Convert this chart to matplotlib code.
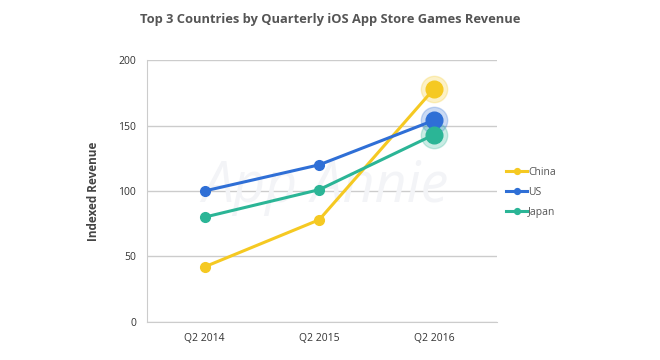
import matplotlib
matplotlib.use("Agg")
import matplotlib.pyplot as plt

quarters = ["Q2 2014", "Q2 2015", "Q2 2016"]
china = [42, 78, 178]
us = [100, 120, 154]
japan = [80, 101, 143]
series = [("China", china, "#F5C922"), ("US", us, "#2F6FD6"), ("Japan", japan, "#2BB596")]

plt.rcParams["font.family"] = ["Open Sans", "DejaVu Sans"]

fig = plt.figure(figsize=(6.6, 3.6), dpi=100)
ax = fig.add_axes([0.223, 0.106, 0.53, 0.727])

x = list(range(len(quarters)))
for name, vals, color in series:
    ax.plot(x, vals, color=color, lw=2.2, marker="o", markersize=7, label=name, zorder=3)
    # highlighted last point
    ax.plot(x[-1], vals[-1], "o", color=color, markersize=19, alpha=0.25, zorder=2)
    ax.plot(x[-1], vals[-1], "o", color=color, markersize=12, zorder=4)

# watermark
ax.text(1.05, 103, "App Annie", fontsize=40, style="italic", color="#f3f4f7",
        ha="center", va="center", zorder=1)

ax.set_xlim(-0.5, 2.55)
ax.set_ylim(0, 200)
ax.set_yticks([0, 50, 100, 150, 200])
ax.set_xticks(x)
ax.set_xticklabels(quarters)
ax.tick_params(length=0, labelsize=7.5, colors="#333333", pad=8)
ax.grid(axis="y", color="#cccccc", lw=1)
ax.set_axisbelow(True)
for s in ["top", "right"]:
    ax.spines[s].set_visible(False)
for s in ["left", "bottom"]:
    ax.spines[s].set_color("#cccccc")

ax.set_ylabel("Indexed Revenue", fontsize=8.5, fontweight="bold", color="#444444", labelpad=13)
fig.suptitle("Top 3 Countries by Quarterly iOS App Store Games Revenue", x=0.5, y=0.965,
             fontsize=9.3, fontweight="bold", color="#555555")

leg = ax.legend(loc="center left", bbox_to_anchor=(1.0, 0.495), frameon=False,
                fontsize=7.5, handlelength=2, handletextpad=0.1, labelspacing=0.85, markerscale=0.6)
for t in leg.get_texts():
    t.set_color("#555555")

fig.savefig("out.png", dpi=100)
